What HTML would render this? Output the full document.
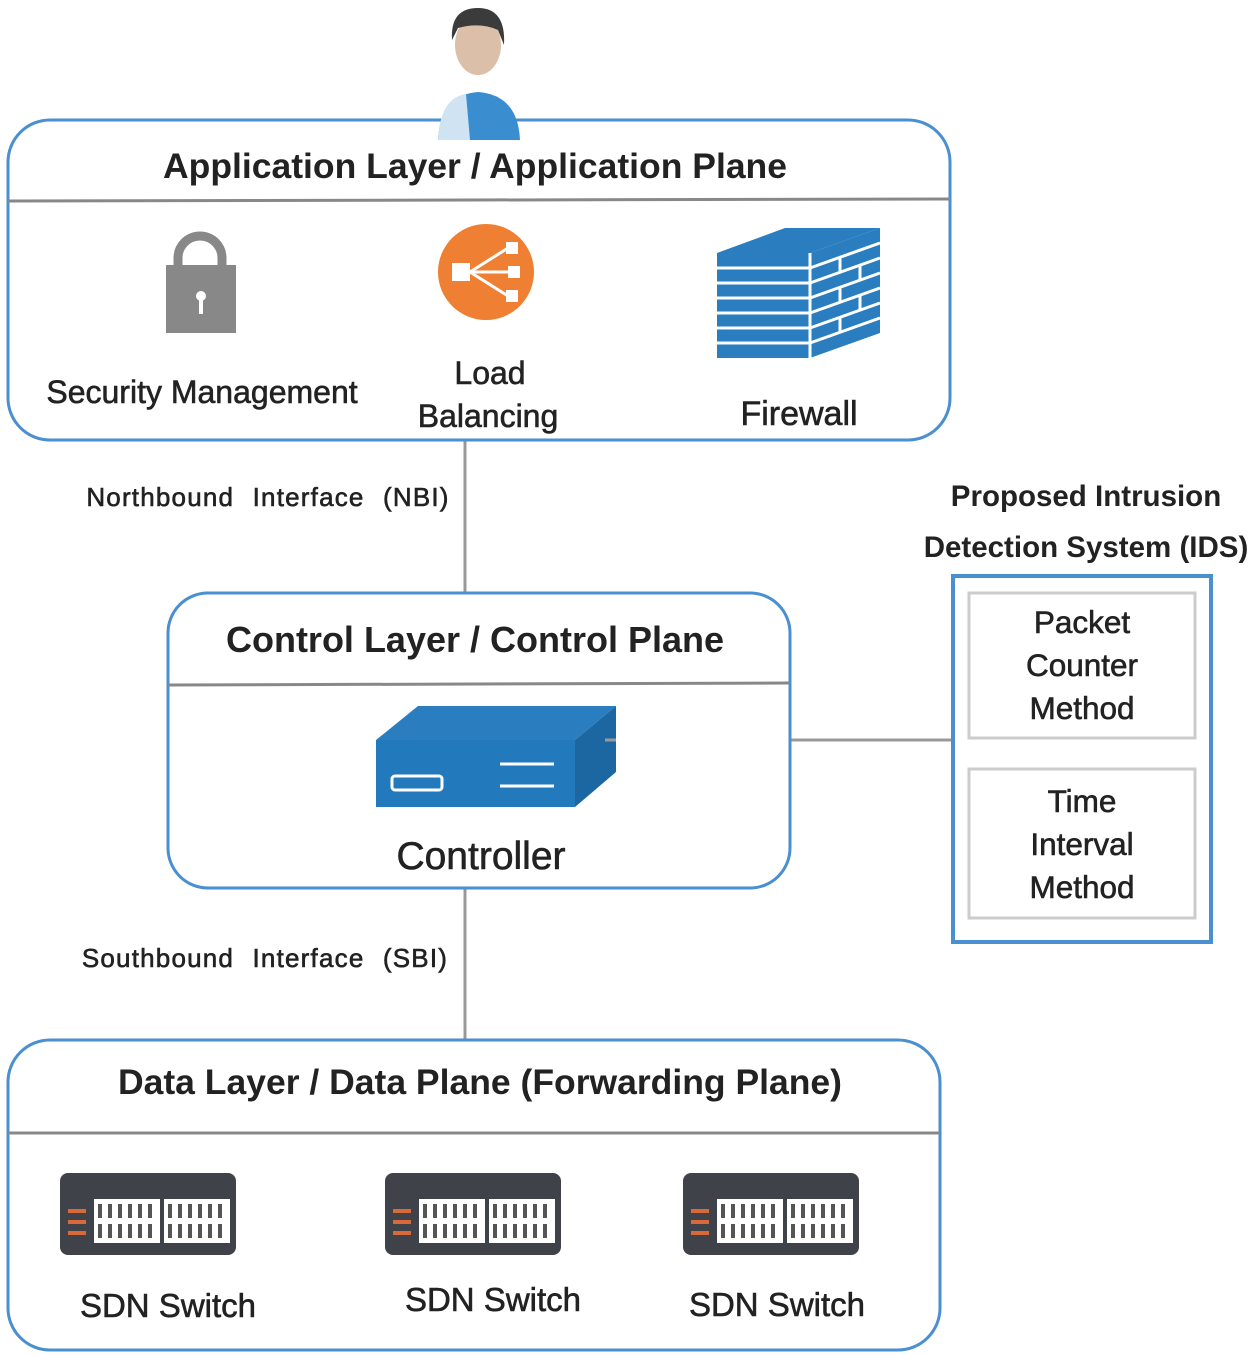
<!DOCTYPE html>
<html><head><meta charset="utf-8"><style>
body{margin:0;background:#fff}
svg{display:block}
text{font-family:"Liberation Sans",sans-serif;fill:#222}
.r{stroke:#222;stroke-width:0.6}
</style></head><body>
<svg width="1250" height="1356" viewBox="0 0 1250 1356" xmlns="http://www.w3.org/2000/svg">
<defs>
<g id="sw">
<rect x="0" y="0" width="176" height="82" rx="8" fill="#3f4249"/>
<rect x="34" y="26" width="66" height="44" fill="#fff"/>
<rect x="104" y="26" width="66" height="44" fill="#fff"/>
<g fill="#555">
<rect x="38" y="31" width="4" height="14"/><rect x="48" y="31" width="4" height="14"/><rect x="58" y="31" width="4" height="14"/><rect x="68" y="31" width="4" height="14"/><rect x="78" y="31" width="4" height="14"/><rect x="88" y="31" width="4" height="14"/>
<rect x="38" y="51" width="4" height="14"/><rect x="48" y="51" width="4" height="14"/><rect x="58" y="51" width="4" height="14"/><rect x="68" y="51" width="4" height="14"/><rect x="78" y="51" width="4" height="14"/><rect x="88" y="51" width="4" height="14"/>
<rect x="108" y="31" width="4" height="14"/><rect x="118" y="31" width="4" height="14"/><rect x="128" y="31" width="4" height="14"/><rect x="138" y="31" width="4" height="14"/><rect x="148" y="31" width="4" height="14"/><rect x="158" y="31" width="4" height="14"/>
<rect x="108" y="51" width="4" height="14"/><rect x="118" y="51" width="4" height="14"/><rect x="128" y="51" width="4" height="14"/><rect x="138" y="51" width="4" height="14"/><rect x="148" y="51" width="4" height="14"/><rect x="158" y="51" width="4" height="14"/>
</g>
<g fill="#d86a3a"><rect x="8" y="36" width="18" height="4"/><rect x="8" y="47" width="18" height="4"/><rect x="8" y="58" width="18" height="4"/></g>
</g>
</defs>

<line x1="465" y1="440" x2="465" y2="593" stroke="#999" stroke-width="3"/>
<line x1="465" y1="888" x2="465" y2="1040" stroke="#999" stroke-width="3"/>
<line x1="605" y1="740" x2="955" y2="740" stroke="#999" stroke-width="3"/>

<!-- App box -->
<rect x="8" y="120" width="942" height="320" rx="42" fill="none" stroke="#4a8fd0" stroke-width="3"/>
<line x1="8" y1="201" x2="950" y2="199" stroke="#888" stroke-width="3"/>
<text x="475" y="178" font-size="35.5" font-weight="bold" text-anchor="middle">Application Layer / Application Plane</text>

<!-- person -->
<path d="M438 140 Q440 95 478 92 Q518 95 520 140 Z" fill="#3a8ed0"/>
<path d="M438 140 Q440 98 466 94 L470 140 Z" fill="#cfe3f2"/>
<ellipse cx="478" cy="45" rx="23" ry="30" fill="#dcbfa8"/>
<path d="M452 40 Q450 8 478 8 Q506 8 504 45 L498 30 Q480 22 458 28 Z" fill="#3b3b3b"/>

<!-- lock -->
<path d="M178 268 V258 a22 22 0 0 1 44 0 V268" fill="none" stroke="#888" stroke-width="9"/>
<rect x="166" y="265" width="70" height="68" fill="#888"/>
<circle cx="201" cy="296" r="5" fill="#fff"/><rect x="199" y="296" width="4" height="18" fill="#fff"/>
<text class="r" x="202" y="403" font-size="32" text-anchor="middle">Security Management</text>

<!-- load balancing -->
<circle cx="486" cy="272" r="48" fill="#ef7f33"/>
<g fill="#fff" stroke="#fff">
<rect x="452" y="263" width="18" height="18" stroke="none"/>
<rect x="506" y="242" width="12" height="12" stroke="none"/><rect x="508" y="266" width="12" height="12" stroke="none"/><rect x="506" y="290" width="12" height="12" stroke="none"/>
<line x1="470" y1="272" x2="508" y2="248" stroke-width="3"/><line x1="470" y1="272" x2="508" y2="272" stroke-width="3"/><line x1="470" y1="272" x2="508" y2="296" stroke-width="3"/>
</g>
<text class="r" x="490" y="384" font-size="32" text-anchor="middle">Load</text>
<text class="r" x="488" y="427" font-size="32" text-anchor="middle">Balancing</text>

<!-- firewall -->
<polygon points="717,253 810,253 880,228 785,228" fill="#2a7ec0"/>
<rect x="717" y="253" width="93" height="105" fill="#2a7ec0"/>
<polygon points="810,253 880,228 880,333 810,358" fill="#2a7ec0"/>
<g stroke="#fff" stroke-width="3">
<line x1="717" y1="268" x2="810" y2="268"/><line x1="717" y1="283" x2="810" y2="283"/><line x1="717" y1="298" x2="810" y2="298"/><line x1="717" y1="313" x2="810" y2="313"/><line x1="717" y1="328" x2="810" y2="328"/><line x1="717" y1="343" x2="810" y2="343"/>
<line x1="810" y1="253" x2="810" y2="358"/>
<line x1="810" y1="268" x2="880" y2="243"/><line x1="810" y1="283" x2="880" y2="258"/><line x1="810" y1="298" x2="880" y2="273"/><line x1="810" y1="313" x2="880" y2="288"/><line x1="810" y1="328" x2="880" y2="303"/><line x1="810" y1="343" x2="880" y2="318"/>
<line x1="840" y1="257" x2="840" y2="272"/><line x1="860" y1="265" x2="860" y2="280"/><line x1="840" y1="287" x2="840" y2="302"/><line x1="860" y1="295" x2="860" y2="310"/><line x1="840" y1="317" x2="840" y2="332"/>
</g>
<text class="r" x="799" y="425" font-size="34" text-anchor="middle">Firewall</text>

<text class="r" x="268" y="506" font-size="26" text-anchor="middle" letter-spacing="1.2" word-spacing="10">Northbound Interface (NBI)</text>

<!-- Control box -->
<rect x="168" y="593" width="622" height="295" rx="40" fill="#fff" stroke="#4a8fd0" stroke-width="3"/>
<line x1="168" y1="685" x2="790" y2="683" stroke="#888" stroke-width="3"/>
<text x="475" y="652" font-size="36" font-weight="bold" text-anchor="middle">Control Layer /  Control Plane</text>
<polygon points="376,740 575,740 616,706 418,706" fill="#2a7ec0"/>
<rect x="376" y="740" width="199" height="67" fill="#2279bb"/>
<polygon points="575,740 616,706 616,772 575,807" fill="#1c66a1"/>
<rect x="392" y="776" width="50" height="14" rx="3" fill="none" stroke="#fff" stroke-width="3"/>
<line x1="500" y1="764" x2="554" y2="764" stroke="#fff" stroke-width="3"/>
<line x1="500" y1="786" x2="554" y2="786" stroke="#fff" stroke-width="3"/>
<line x1="605" y1="740" x2="616" y2="740" stroke="#999" stroke-width="3"/>
<text class="r" x="481" y="869" font-size="39" text-anchor="middle">Controller</text>

<text class="r" x="265" y="967" font-size="26" text-anchor="middle" letter-spacing="1.2" word-spacing="10">Southbound Interface (SBI)</text>

<!-- IDS -->
<text x="1086" y="506" font-size="29.5" font-weight="bold" text-anchor="middle">Proposed Intrusion</text>
<text x="1086" y="557" font-size="29.5" font-weight="bold" text-anchor="middle">Detection System (IDS)</text>
<rect x="953" y="576" width="258" height="366" fill="#fff" stroke="#4a8fd0" stroke-width="4"/>
<rect x="969" y="593" width="226" height="145" fill="none" stroke="#ccc" stroke-width="3"/>
<rect x="969" y="769" width="226" height="149" fill="none" stroke="#ccc" stroke-width="3"/>
<g font-size="31.5" text-anchor="middle" class="r">
<text x="1082" y="633">Packet</text><text x="1082" y="676">Counter</text><text x="1082" y="719">Method</text>
<text x="1082" y="812">Time</text><text x="1082" y="855">Interval</text><text x="1082" y="898">Method</text>
</g>

<!-- Data box -->
<rect x="8" y="1040" width="932" height="310" rx="42" fill="none" stroke="#4a8fd0" stroke-width="3"/>
<line x1="8" y1="1133" x2="940" y2="1133" stroke="#888" stroke-width="3"/>
<text x="480" y="1094" font-size="35.5" font-weight="bold" text-anchor="middle">Data Layer / Data Plane (Forwarding Plane)</text>
<use href="#sw" x="60" y="1173"/>
<use href="#sw" x="385" y="1173"/>
<use href="#sw" x="683" y="1173"/>
<g font-size="33" text-anchor="middle" class="r">
<text x="168" y="1317">SDN Switch</text>
<text x="493" y="1311">SDN Switch</text>
<text x="777" y="1316">SDN Switch</text>
</g>
</svg>
</body></html>
